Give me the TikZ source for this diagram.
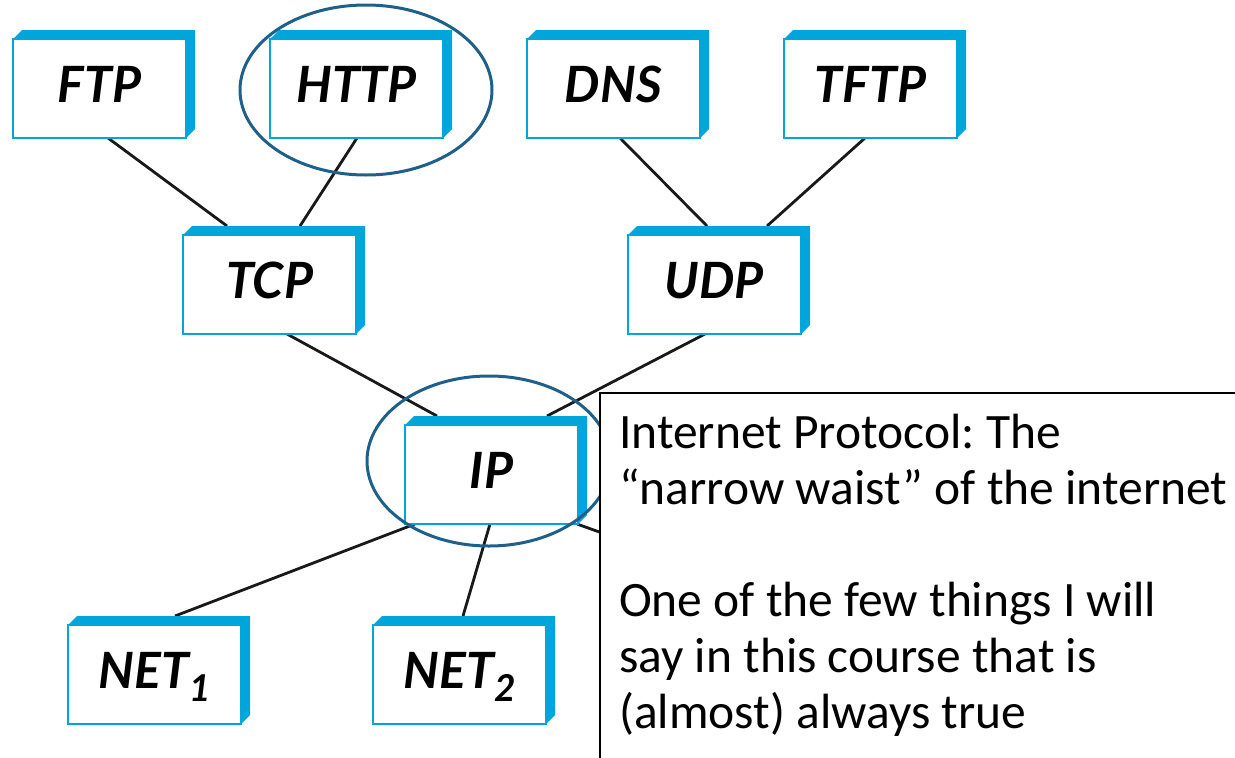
\documentclass[tikz,border=0pt]{standalone}
\usepackage{fontspec}
\setmainfont{Carlito}
\newfontfamily\labelfont{Lato}
\usetikzlibrary{calc,backgrounds}
\definecolor{boxblue}{HTML}{00A5DA}
\definecolor{ringblue}{HTML}{1E6089}
\newcommand{\sub}[1]{\raisebox{-13pt}{\fontsize{37}{37}\selectfont #1}}
\frenchspacing

\begin{document}
\begin{tikzpicture}[x=1pt,y=1pt,
  proto/.style={draw=boxblue, line width=2.5pt, fill=white,
    minimum width=173pt, minimum height=99pt, inner sep=0pt, outer sep=0pt,
    text height=36pt, text depth=9pt,
    font=\labelfont\bfseries\itshape\fontsize{50}{52}\selectfont},
  band/.style={fill=boxblue},
  link/.style={draw=black!90, line width=2.8pt},
  ring/.style={draw=ringblue, line width=3pt},
  notebox/.style={draw=black, fill=white, line width=1.3pt},
  notetext/.style={anchor=base west, inner sep=0pt, font=\fontsize{49.5}{56}\selectfont}
]
\useasboundingbox (0,0) rectangle (1235,-758);
\clip (0,0) rectangle (1235,-758);

% protocol boxes
\node[proto] (ftp)  at (99.5,-88.5)  {FTP};
\node[proto] (http) at (356.5,-88.5) {HTTP};
\node[proto] (dns)  at (613.5,-88.5) {DNS};
\node[proto] (tftp) at (870.5,-88.5) {TFTP};
\node[proto] (tcp)  at (269.5,-284.5) {TCP};
\node[proto] (udp)  at (714.5,-284.5) {UDP};
\node[proto] (ip)   at (491.5,-474.5) {IP};
\node[proto] (net1) at (154.5,-674.5) {NET\sub{1}};
\node[proto] (net2) at (459.5,-674.5) {NET\sub{2}};
\coordinate (net3) at (700,-568);

\begin{scope}[on background layer]
  % connectors
  \draw[link] ([xshift=8.5pt]ftp.south)  -- ([shift={(-42.5pt,9pt)}]tcp.north);
  \draw[link] ([xshift=0.5pt]http.south) -- ([shift={(30.5pt,9pt)}]tcp.north);
  \draw[link] ([xshift=6.5pt]dns.south)  -- ([shift={(-7.5pt,9pt)}]udp.north);
  \draw[link] ([xshift=-5.5pt]tftp.south) -- ([shift={(52.5pt,9pt)}]udp.north);
  \draw[link] ([xshift=17.5pt]tcp.south) -- ([shift={(-54.5pt,9pt)}]ip.north);
  \draw[link] ([xshift=-9.5pt]udp.south) -- ([shift={(55.5pt,9pt)}]ip.north);
  \draw[link] ([xshift=-76.5pt]ip.south) -- ([shift={(20.5pt,9pt)}]net1.north);
  \draw[link] ([xshift=-1.5pt]ip.south)  -- ([shift={(3.5pt,9pt)}]net2.north);
  \draw[link] ([xshift=85.5pt]ip.south)  -- (net3);
  % raised top and right edges of each box
  \foreach \n in {ftp,http,dns,tftp,tcp,udp,ip,net1,net2}
    \fill[band] (\n.north west) -- ++(9,9) -- ($(\n.north east)+(9,9)$)
      -- ($(\n.south east)+(9,9)$) -- (\n.south east) -- (\n.north east) -- cycle;
\end{scope}

% highlight rings
\draw[ring] ($(http)+(9.5,-1.5)$) ellipse [x radius=126, y radius=85];
\draw[ring] ($(ip)+(-2.5,13.5)$) ellipse [x radius=122, y radius=85];

% note
\draw[notebox] (600,-393) rectangle (1250,-775);
\node[notetext] (note1) at (619,-448) {Internet Protocol: The};
\node[notetext] (note2) at (619,-504) {“narrow waist” of the internet};
\node[notetext] (note3) at (619,-616) {One of the few things I will};
\node[notetext] (note4) at (619,-672) {say in this course that is};
\node[notetext] (note5) at (619,-728) {(almost) always true};
\end{tikzpicture}
\end{document}
